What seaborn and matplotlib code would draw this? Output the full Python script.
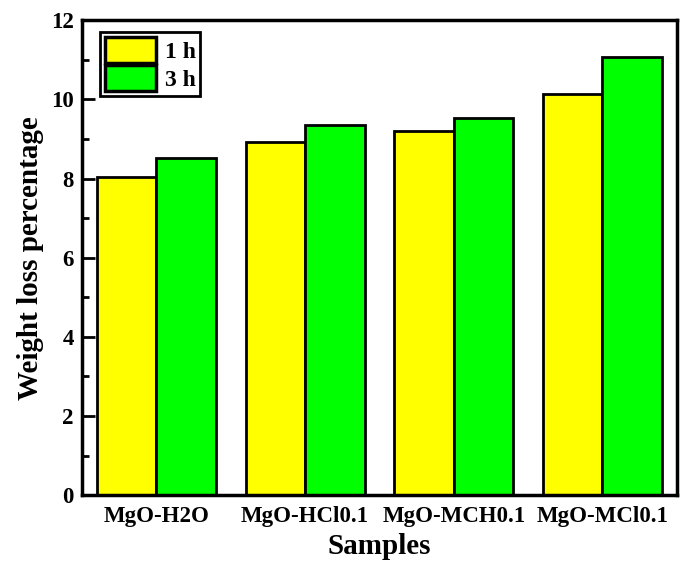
import matplotlib
matplotlib.use("Agg")
import matplotlib.pyplot as plt
from matplotlib.ticker import MultipleLocator
import seaborn as sns
import pandas as pd

samples = ["MgO-H2O", "MgO-HCl0.1", "MgO-MCH0.1", "MgO-MCl0.1"]
loss_1h = [8.05, 8.92, 9.21, 10.14]
loss_3h = [8.53, 9.36, 9.52, 11.07]
durations = ["1 h", "3 h"]
palette = ["#FFFF00", "#00FF00"]

df = pd.DataFrame({
    "Samples": samples * 2,
    "Weight loss percentage": loss_1h + loss_3h,
    "Time": [durations[0]] * len(samples) + [durations[1]] * len(samples),
})

sns.set_style("ticks")
plt.rcParams["font.family"] = ["Liberation Serif", "DejaVu Serif"]
plt.rcParams["font.weight"] = "bold"
plt.rcParams["text.color"] = "black"
plt.rcParams["axes.labelcolor"] = "black"
plt.rcParams["xtick.color"] = "black"
plt.rcParams["ytick.color"] = "black"
plt.rcParams["ytick.direction"] = "in"
plt.rcParams["xtick.direction"] = "in"

fig = plt.figure(figsize=(6.83, 5.62), dpi=100)
ax = fig.add_axes([0.120, 0.119, 0.871, 0.845])

sns.barplot(data=df, x="Samples", y="Weight loss percentage", hue="Time",
            palette=palette, width=0.8, saturation=1, edgecolor="black",
            linewidth=2, ax=ax, legend=True)

ax.set_xlim(-0.5, 3.5)
ax.set_ylim(0, 12)
ax.yaxis.set_major_locator(MultipleLocator(2))
ax.yaxis.set_minor_locator(MultipleLocator(1))
ax.tick_params(axis="y", which="major", direction="in", length=9, width=2,
               labelsize=16.5, pad=6, colors="black")
ax.tick_params(axis="y", which="minor", direction="in", length=5, width=2,
               colors="black")
ax.tick_params(axis="x", which="major", length=0, labelsize=16.5, pad=8,
               colors="black")
for lbl in ax.get_xticklabels() + ax.get_yticklabels():
    lbl.set_fontweight("bold")

for side in ["left", "right", "top", "bottom"]:
    ax.spines[side].set_visible(True)
    ax.spines[side].set_linewidth(2.5)
    ax.spines[side].set_color("black")

ax.set_xlabel("Samples", fontsize=21, fontweight="bold", labelpad=4)
ax.set_ylabel("Weight loss percentage", fontsize=21, fontweight="bold", labelpad=5)

leg = ax.legend(loc="upper left", bbox_to_anchor=(0.03, 0.975),
                frameon=True, fancybox=False, handlelength=2.2, handleheight=1.3,
                handletextpad=0.35, borderpad=0.2, labelspacing=0.12,
                borderaxespad=0, prop={"weight": "bold", "size": 17})
leg.get_frame().set_edgecolor("black")
leg.get_frame().set_linewidth(2)
leg.get_frame().set_alpha(1)
for h in leg.legend_handles:
    h.set_edgecolor("black")
    h.set_linewidth(2.5)

fig.savefig("out.png", dpi=100)
